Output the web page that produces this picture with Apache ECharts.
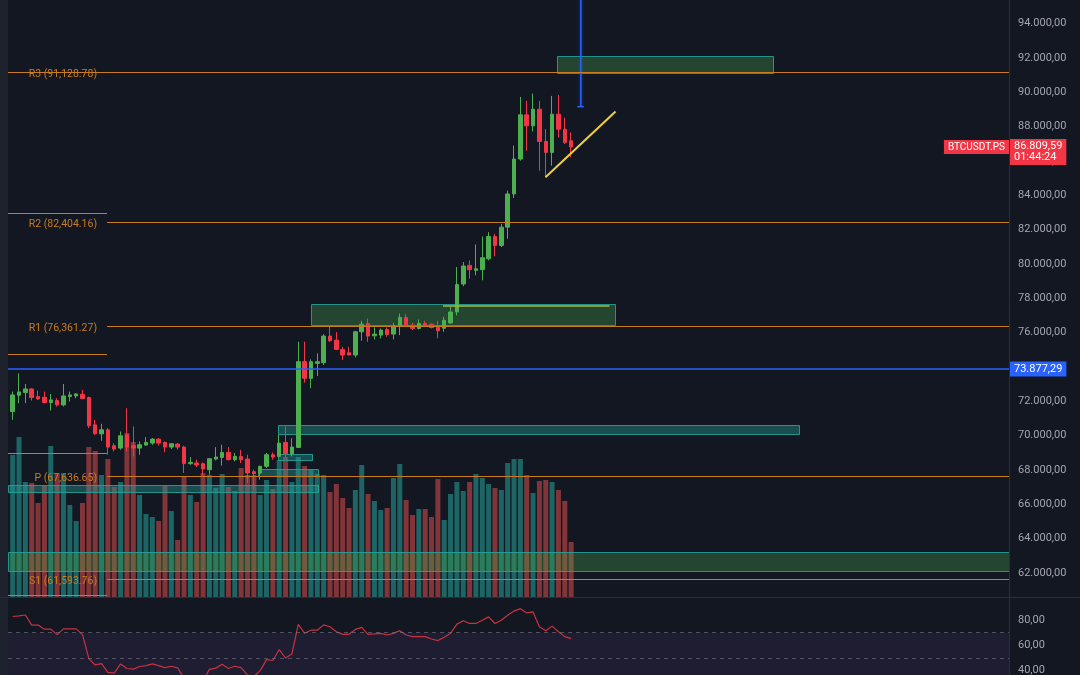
<!DOCTYPE html>
<html>
<head>
<meta charset="utf-8">
<title>BTCUSDT.PS</title>
<script src="https://cdn.jsdelivr.net/npm/echarts@6/dist/echarts.min.js"></script>
<style>
  html, body { margin: 0; padding: 0; background: #131722; }
  #chart { width: 1080px; height: 675px; }
</style>
</head>
<body>
<div id="chart"></div>
<script>
// candles: [open, close, low, high]
const candles = [
  [71400, 72368, 70916, 72562], [72349, 72543, 71884, 73627], [72504, 72717, 71884, 73007],
  [72717, 72213, 72039, 72756], [72272, 72136, 72078, 72620], [72233, 71923, 71884, 72562],
  [71923, 72078, 71459, 72426], [72039, 71788, 71691, 72175], [71788, 72310, 71691, 73007],
  [72272, 72368, 71981, 72562], [72310, 72426, 72175, 72465], [72407, 72155, 72117, 72659],
  [72213, 70568, 70433, 72272], [70626, 70103, 70045, 70916], [70103, 70336, 69697, 70684],
  [70336, 69329, 68884, 70433], [69407, 69213, 69077, 69562], [69271, 69987, 69174, 70239],
  [70045, 69329, 69077, 71594], [69407, 69271, 68787, 70529], [69271, 69465, 68884, 69658],
  [69446, 69600, 69407, 69910], [69562, 69794, 69465, 69852], [69794, 69562, 69426, 69852],
  [69600, 69329, 69019, 69658], [69329, 69523, 69213, 69562], [69504, 69329, 69174, 69562],
  [69329, 68361, 67819, 69407], [68361, 68439, 68303, 68749], [68400, 68284, 68168, 68594],
  [68361, 68052, 67587, 68439], [68013, 68652, 67723, 68690], [68633, 68749, 68555, 69329],
  [68729, 69019, 68245, 69465], [69019, 68594, 68555, 69329], [68594, 68787, 68497, 68981],
  [68787, 68594, 68400, 69174], [68633, 67819, 67239, 68884], [67897, 67781, 66851, 68013],
  [67819, 68207, 67432, 68245], [68207, 68884, 68110, 68981], [68884, 68749, 68594, 69019],
  [68787, 69562, 68690, 70045], [69600, 68942, 68690, 70529], [68942, 69329, 68787, 69852],
  [69310, 74305, 69271, 75466], [74305, 73336, 73085, 75466], [73336, 74305, 72756, 74440],
  [74208, 74305, 73472, 74788], [74246, 75795, 74111, 75911], [75795, 75524, 75466, 76376],
  [75563, 75021, 74982, 76028], [75021, 74692, 74401, 75176], [74827, 74692, 74692, 75176],
  [74692, 76047, 74556, 76105], [76047, 76492, 75524, 76686], [76531, 75795, 75466, 76821],
  [75815, 75911, 75602, 76299], [75853, 76144, 75660, 76241], [76183, 75892, 75757, 76299],
  [75911, 76376, 75602, 76570], [76376, 76879, 75853, 77112], [76879, 76434, 76337, 77073],
  [76434, 76241, 76144, 76570], [76241, 76531, 76183, 76763], [76531, 76376, 76337, 76686],
  [76492, 76299, 76241, 76531], [76299, 76105, 75660, 76686], [76254, 76720, 76047, 76918],
  [76560, 77200, 76531, 77499], [77200, 78800, 77000, 79820], [78830, 79880, 78700, 80110],
  [79916, 79665, 79142, 80207], [79626, 79723, 79336, 81136], [79665, 80361, 79045, 81600],
  [80303, 81600, 80207, 81852], [81600, 81078, 80439, 81755], [81078, 82143, 80981, 82336],
  [82143, 84079, 81465, 84272], [84079, 86111, 83846, 86886], [86111, 88686, 86015, 89732],
  [88686, 88047, 86596, 89499], [88047, 89015, 87718, 89925], [89015, 87137, 85434, 89499],
  [87137, 86499, 85047, 87854], [86499, 88725, 85724, 89790], [88725, 87854, 87370, 89848],
  [87854, 87080, 86983, 88531], [87180, 86809.59, 86208, 87660]
];

// volume, relative units
const volumes = [
  142, 160, 115, 114, 94, 111, 151, 124, 124, 92,
  76, 94, 150, 146, 122, 138, 110, 115, 164, 155,
  102, 83, 80, 76, 111, 86, 57, 120, 102, 95,
  124, 122, 109, 123, 110, 106, 129, 122, 122, 102,
  117, 108, 137, 140, 115, 140, 131, 127, 123, 122,
  105, 113, 99, 89, 107, 132, 103, 96, 87, 89,
  119, 133, 97, 82, 88, 88, 80, 118, 77, 103,
  115, 106, 115, 123, 119, 113, 109, 107, 134, 138,
  138, 122, 104, 116, 117, 115, 107, 96, 55
];

const rsiValues = [
  82.8, 83.3, 84, 76, 76, 72.8, 72.8, 68.5, 73, 73,
  73, 68.5, 49.5, 44.5, 45.6, 38.7, 38, 45.3, 41.7, 41.2,
  43.3, 44, 45.3, 44, 42.4, 43.5, 42.2, 34, 33, 33.5,
  32, 41, 42, 45, 41.7, 43.5, 42.4, 36.5, 35.5, 40,
  48.7, 48, 56.7, 50, 53.2, 76.6, 69.5, 72, 72, 76.2,
  74.7, 70.8, 68.7, 68.7, 72.6, 74.2, 68.7, 69, 69.5, 68.2,
  69.5, 71.6, 68.2, 66.9, 66.9, 66.9, 65, 63.8, 66.4, 69.5,
  76.8, 79.4, 77.3, 77.3, 79.9, 82.5, 77.3, 79.9, 83.8, 87.1,
  89, 85.6, 86.4, 74.7, 71.6, 75.2, 70.8, 66.9, 65.3
];

// pivot points (standard)
const pivotNames = ["R3", "R2", "R1", "P", "S1"];
const pivotCurrent = [91128.78, 82404.16, 76361.27, 67636.65, 61593.76];
const pivotPrevious = [91168, 82911, 74695, 68984, 60681];
const pivotStart = 15.87; // bar position where the current period begins

// zones: [fromBar, toBar, high, low, kind]
const zones = [
  [86.85, 120.9, 92077, 91110, 0],
  [48.05, 96.0, 77608, 76385, 0],
  [42.85, 125.0, 70558, 70034, 1],
  [0.26, 49.15, 67062, 66654, 1],
  [0.26, 158, 63187, 62080, 0],
  [42.85, 48.2, 68868, 68536, 1],
  [39.7, 49.15, 67994, 67604, 1]
];

// drawings
const trendLine = [[84.96, 85046], [96.0, 88878]];
const rangeLine = [[68.8, 77550], [95.05, 77550]];
const markerLine = [[90.53, 89164], [90.53, 96000]];
const markerCap = [[89.96, 89164], [91.0, 89164]];

const symbolName = "BTCUSDT.PS";
const lastPrice = 86809.59;
const countdown = "01:44:24";
const blueLevel = 73877.29;

const X_MIN = 0.26;
const X_MAX = 158;
const UP = "#4caf50";
const DOWN = "#f23645";
const ORANGE = "#c77c1f";
const FONT = "Roboto";
const NONE = "rgba(0,0,0,0)";

//number formats
function fmtDE(v) {
  const parts = v.toFixed(2).split(".");
  return parts[0].replace(/\B(?=(\d{3})+(?!\d))/g, ".") + "," + parts[1];
}
function fmtUS(v) {
  const parts = v.toFixed(2).split(".");
  return parts[0].replace(/\B(?=(\d{3})+(?!\d))/g, ",") + "." + parts[1];
}

const candleData = candles.map((c, i) => [i + 1, c[0], c[1], c[2], c[3]]);
const volumeData = volumes.map((v, i) => ({
  value: [i + 1, v],
  itemStyle: {
    color: candles[i][1] >= candles[i][0] ? "rgba(38,166,154,0.55)" : "rgba(239,83,80,0.5)",
  },
}));
const rsiData = rsiValues.map((v, i) => [i + 1, v]);

const zoneStyles = [
  { fill: "rgba(76,175,80,0.3)", stroke: "rgba(38,166,154,0.85)" },
  { fill: "rgba(38,166,154,0.38)", stroke: "rgba(38,166,154,0.85)" },
];

// pivot segments: [fromBar, toBar, level, nameIndex or -1]
const pivotSegments = [];
pivotNames.forEach((name, k) => {
  pivotSegments.push([pivotStart, X_MAX, pivotCurrent[k], k]);
  pivotSegments.push([X_MIN, pivotStart, pivotPrevious[k], -1]);
});

const crisp = (v) => Math.round(v - 0.5) + 0.5;

const chart = echarts.init(document.getElementById("chart"));

const gridBase = { left: 8, right: 71, outerBoundsMode: "none", containLabel: false };

chart.setOption({
  backgroundColor: "#131722",
  animation: false,
  textStyle: { fontFamily: FONT },
  grid: [
    Object.assign({ top: 0, bottom: 67.8 }, gridBase),
    Object.assign({ top: 0, bottom: 78 }, gridBase),
    Object.assign({ top: 600, bottom: 0 }, gridBase),
  ],
  xAxis: [0, 1, 2].map((g) => ({
    type: "value",
    gridIndex: g,
    min: X_MIN,
    max: X_MAX,
    show: false,
  })),
  yAxis: [
    {
      type: "value",
      gridIndex: 0,
      position: "right",
      min: 60000,
      max: 95378,
      interval: 2000,
      axisLine: { show: true, lineStyle: { color: "#2a2e39" } },
      axisTick: { show: false },
      splitLine: { show: false },
      axisLabel: {
        color: "#a3a6af",
        fontSize: 11,
        margin: 9,
        showMinLabel: false,
        showMaxLabel: false,
        formatter: fmtDE,
      },
    },
    { type: "value", gridIndex: 1, min: 0, max: 597, show: false },
    {
      type: "value",
      gridIndex: 2,
      position: "right",
      min: 36.56,
      max: 95.85,
      splitNumber: 3,
      axisLine: { show: true, lineStyle: { color: "#2a2e39" } },
      axisTick: { show: false },
      splitLine: { show: false },
      axisLabel: {
        color: "#a3a6af",
        fontSize: 11,
        margin: 9,
        showMinLabel: false,
        showMaxLabel: false,
        formatter: fmtDE,
      },
    },
  ],
  series: [
    {
      name: "Volume",
      type: "bar",
      xAxisIndex: 1,
      yAxisIndex: 1,
      z: 1,
      barWidth: 5,
      data: volumeData,
    },
    {
      name: "Zones",
      type: "custom",
      xAxisIndex: 0,
      yAxisIndex: 0,
      z: 2,
      clip: true,
      encode: { x: [0, 1], y: [2, 3] },
      data: zones,
      renderItem: (params, api) => {
        const p1 = api.coord([api.value(0), api.value(2)]);
        const p2 = api.coord([api.value(1), api.value(3)]);
        const st = zoneStyles[api.value(4)];
        const x = crisp(p1[0]);
        const y = crisp(p1[1]);
        return {
          type: "rect",
          shape: { x: x, y: y, width: Math.round(p2[0] - p1[0]), height: Math.round(p2[1] - p1[1]) },
          style: { fill: st.fill, stroke: st.stroke, lineWidth: 1 },
        };
      },
    },
    {
      name: "Pivots",
      type: "custom",
      xAxisIndex: 0,
      yAxisIndex: 0,
      z: 5,
      clip: true,
      encode: { x: [0, 1], y: 2 },
      data: pivotSegments,
      renderItem: (params, api) => {
        const p1 = api.coord([api.value(0), api.value(2)]);
        const p2 = api.coord([api.value(1), api.value(2)]);
        const y = crisp(p1[1]);
        const k = api.value(3);
        const children = [
          {
            type: "line",
            shape: { x1: p1[0], y1: y, x2: p2[0], y2: y },
            style: { stroke: ORANGE, lineWidth: 1 },
          },
        ];
        if (k >= 0) {
          children.push({
            type: "text",
            style: {
              text: pivotNames[k] + " (" + fmtUS(pivotCurrent[k]) + ")",
              x: p1[0] - 10,
              y: y + 2,
              align: "right",
              verticalAlign: "middle",
              fill: ORANGE,
              font: "10.5px " + FONT,
            },
          });
        }
        return { type: "group", children: children };
      },
    },
    {
      name: symbolName,
      type: "candlestick",
      xAxisIndex: 0,
      yAxisIndex: 0,
      z: 3,
      barWidth: 4,
      encode: { x: 0, y: [1, 2, 3, 4] },
      data: candleData,
      itemStyle: {
        color: UP,
        color0: DOWN,
        borderColor: UP,
        borderColor0: DOWN,
        borderWidth: 1,
      },
      markLine: {
        silent: true,
        symbol: ["none", "none"],
        label: { show: false },
        data: [
          {
            yAxis: blueLevel,
            lineStyle: { color: "#2962ff", width: 1.5, type: "solid" },
            label: {
              show: true,
              position: "end",
              distance: 1,
              formatter: fmtDE(blueLevel),
              color: "#ffffff",
              backgroundColor: "#2962ff",
              padding: [2, 4],
              fontSize: 11,
              fontFamily: FONT,
            },
          },
          {
            yAxis: lastPrice,
            lineStyle: { color: NONE, width: 0 },
            label: {
              show: true,
              position: "end",
              distance: 1,
              offset: [0, 5],
              formatter: fmtDE(lastPrice) + "\n" + countdown,
              color: "#ffffff",
              backgroundColor: DOWN,
              padding: [2, 4],
              lineHeight: 11,
              fontSize: 11,
              fontFamily: FONT,
            },
          },
          {
            yAxis: lastPrice,
            lineStyle: { color: NONE, width: 0 },
            label: {
              show: true,
              position: "insideEnd",
              distance: 0,
              formatter: symbolName,
              color: "#ffffff",
              backgroundColor: DOWN,
              padding: [2, 4],
              fontSize: 10,
              fontFamily: FONT,
            },
          },
        ],
      },
    },
    {
      name: "Trend",
      type: "line",
      xAxisIndex: 0,
      yAxisIndex: 0,
      z: 4,
      symbol: "none",
      lineStyle: { color: "#f0d03c", width: 2 },
      data: trendLine,
    },
    {
      name: "Range",
      type: "line",
      xAxisIndex: 0,
      yAxisIndex: 0,
      z: 4,
      symbol: "none",
      lineStyle: { color: "#a9b83a", width: 1.5 },
      data: rangeLine,
    },
    {
      name: "Marker",
      type: "line",
      xAxisIndex: 0,
      yAxisIndex: 0,
      z: 4,
      symbol: "none",
      lineStyle: { color: "#2962ff", width: 1.5, shadowColor: "rgba(41,98,255,0.6)", shadowBlur: 3 },
      data: markerLine,
    },
    {
      name: "MarkerCap",
      type: "line",
      xAxisIndex: 0,
      yAxisIndex: 0,
      z: 4,
      symbol: "none",
      lineStyle: { color: "#2962ff", width: 1.5 },
      data: markerCap,
    },
    {
      name: "RSI",
      type: "line",
      xAxisIndex: 2,
      yAxisIndex: 2,
      z: 3,
      symbol: "none",
      lineStyle: { color: "#c8323f", width: 1.2 },
      data: rsiData,
      markArea: {
        silent: true,
        itemStyle: { color: "rgba(126,87,194,0.1)" },
        data: [[{ yAxis: 70 }, { yAxis: "min" }]],
      },
      markLine: {
        silent: true,
        symbol: ["none", "none"],
        label: { show: false },
        lineStyle: { color: "rgba(120,123,134,0.6)", type: [4, 4], width: 1 },
        data: [{ yAxis: 70 }, { yAxis: 50 }],
      },
    },
  ],
  graphic: [
    { type: "rect", left: 0, top: 0, shape: { width: 8, height: 675 }, style: { fill: "#1e222d" }, z: 10 },
    { type: "rect", left: 0, top: 597, shape: { width: 1080, height: 1 }, style: { fill: "#2a2e39" }, z: 10 },
  ],
});
</script>
</body>
</html>
